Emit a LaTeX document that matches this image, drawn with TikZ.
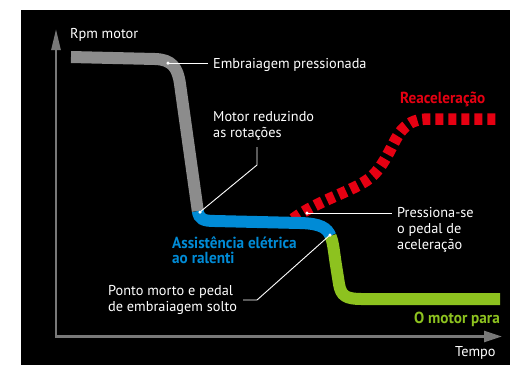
\documentclass[tikz,border=0pt]{standalone}
\usepackage{fontspec}
\setmainfont{PT Sans}
\newfontfamily\boldf[FakeStretch=0.95]{PT Sans}
\usetikzlibrary{arrows.meta}
\definecolor{axisgray}{RGB}{120,120,120}
\definecolor{curvegray}{RGB}{140,140,140}
\definecolor{cblue}{RGB}{0,139,214}
\definecolor{cgreen}{RGB}{141,194,31}
\definecolor{cred}{RGB}{230,0,18}
\begin{document}
\begin{tikzpicture}[x=1pt,y=-1pt,
  lbl/.style={text=white,font=\fontsize{14.3}{16}\selectfont,inner sep=0pt,anchor=west,align=left},
  blbl/.style={font=\boldf\bfseries\fontsize{16}{15.5}\selectfont,inner sep=0pt,anchor=west,align=left},
  band/.style={line width=12pt,line cap=butt},
  leader/.style={white,line width=0.9pt},
  dotw/.style={circle,fill=white,inner sep=0pt,minimum size=3.5pt},
  axisline/.style={axisgray,line width=2.5pt,line join=miter,{Triangle[length=21pt,width=9pt]}-{Triangle[length=18pt,width=11pt]}}]
\useasboundingbox (0,0) rectangle (510,365);
\fill[white] (0,0) rectangle (510,365);
\fill[black] (21,10) rectangle (510,365);
% axes
\coordinate (O) at (56,336.5);
\coordinate (ytip) at (56,29);
\coordinate (xtip) at (502,336.5);
\draw[axisline] (ytip) -- (O) -- (xtip);
% red dashed curve
\draw[cred, line width=11.5pt, dash pattern=on 8pt off 5pt] (293,219) .. controls (318,200) and (352,192) .. (370,178) .. controls (386,165) and (393,140) .. (402,130) .. controls (410,121) and (418,119) .. (430,119) -- (497,119);
% gray
\draw[band,curvegray] (71,57) -- (155,59) .. controls (172,59.5) and (177.7,67.6) .. (180,84) -- (197.8,211);
% blue
\draw[band,cblue] (197.8,211) .. controls (199,219) and (203,221) .. (215,221) -- (300,223) .. controls (321,223.5) and (327,228) .. (330.5,236);
% green
\draw[band,cgreen] (330.5,236) .. controls (332.9,241.5) and (333.5,248) .. (335.5,262) -- (339,284) .. controls (341,296) and (346,299) .. (362,299) -- (500,299);
% dots
\node[dotw] (d1) at (168,63) {};
\node[dotw] (d2) at (200,212) {};
\node[dotw] (d3) at (330,235) {};
\node[dotw] (d4) at (307,213) {};
% leader ends
\coordinate (e1) at (208,63);
\coordinate (k2) at (257,165);
\coordinate (e2) at (257,147);
\coordinate (e3) at (243,300);
\coordinate (k3) at (257,300);
\coordinate (e4) at (392,213);
\draw[leader] (d1.center) -- (e1);
\draw[leader] (d2.center) -- (k2) -- (e2);
\draw[leader] (e3) -- (k3) -- (d3.center);
\draw[leader] (d4.center) -- (e4);
% labels
\node[lbl] (rpm) at (70,35) {Rpm motor};
\node[lbl] (emb) at (213,65) {Embraiagem pressionada};
\node[lbl] (mot) at (213,126) {Motor reduzindo\\as rotações};
\node[lbl] (pon) at (108,299.5) {Ponto morto e pedal\\de embraiagem solto};
\node[lbl] (pre) at (397,230) {Pressiona-se\\o pedal de\\aceleração};
\node[lbl] (tem) at (455,353) {Tempo};
\node[blbl,text=cred] (rea) at (400,99) {Reaceleração};
\node[blbl,text=cblue] (ass) at (172,250) {Assistência elétrica\\ao ralenti};
\node[blbl,text=cgreen] (omo) at (414,319) {O motor para};
\end{tikzpicture}
\end{document}
